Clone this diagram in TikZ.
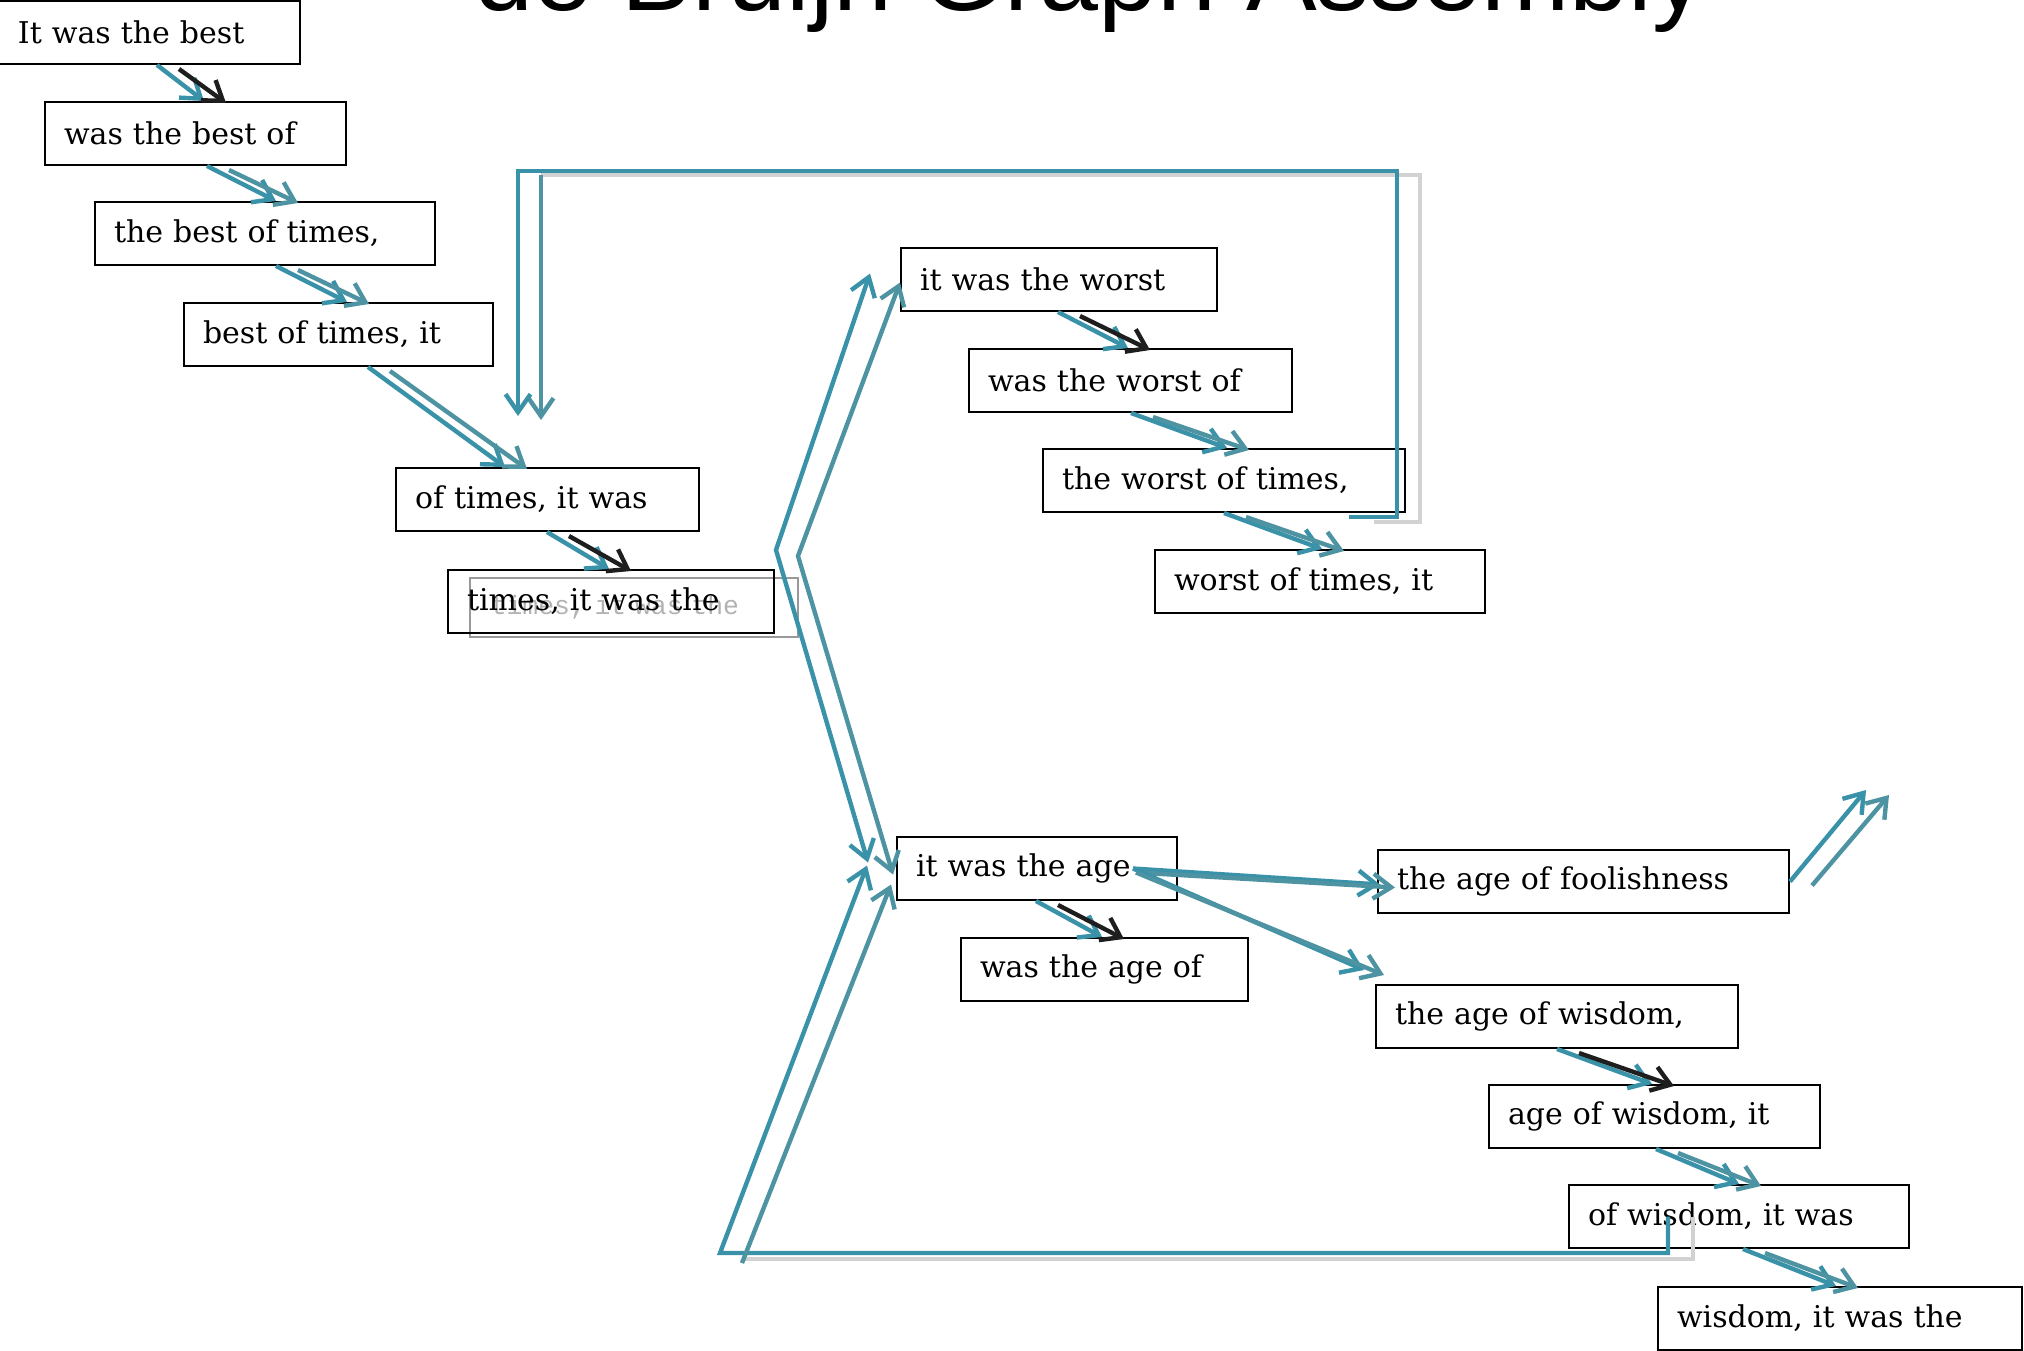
\documentclass[tikz,border=0pt]{standalone}
\usepackage{fontspec}
\setmainfont{DejaVu Serif}
\newfontfamily\titlefont{Liberation Sans}
\newfontfamily\ghostfont{Liberation Mono}
\usetikzlibrary{arrows.meta,calc}

\definecolor{linkteal}{HTML}{3A92A8}
\definecolor{linkgrey}{HTML}{4E93A2}
\definecolor{linkdark}{HTML}{1E1E1E}
\definecolor{shadowgrey}{HTML}{D2D2D2}

\tikzset{
  seg/.style={draw, line width=1pt, anchor=north west, minimum height=31.5pt,
    inner xsep=9.5pt, align=left, font=\fontsize{15pt}{18pt}\selectfont},
  link/.style={draw=linkteal, line width=2.2pt, -{Straight Barb[length=9pt,width=12.5pt]}},
  dlink/.style={link, {Straight Barb[length=9pt,width=12.5pt]}-{Straight Barb[length=9pt,width=12.5pt]}},
}

\begin{document}
\begin{tikzpicture}[x=0.5pt,y=-0.5pt]
  \useasboundingbox (0,0) rectangle (2024,1350);

  \node[anchor=base, font=\titlefont\fontsize{53pt}{60pt}\selectfont] (title) at (1090,10) {de Bruijn Graph Assembly};

  % leftover copy under the sixth segment
  \node[draw=black!40, line width=0.8pt, anchor=north west, minimum height=29.5pt, inner xsep=10.5pt,
    text width=143pt, align=left, text=black!30, font=\ghostfont\fontsize{13.2pt}{14pt}\selectfont]
    (ghost) at (469,577) {times, it was the};

  % first chain
  \node[seg, text width=131.5pt] (n1) at (-2,0) {It was the best};
  \node[seg, text width=131.5pt] (n2) at (44,101) {was the best of};
  \node[seg, text width=151pt] (n3) at (94,201) {the best of times,};
  \node[seg, text width=135.5pt] (n4) at (183,302) {best of times, it};
  \node[seg, text width=132.5pt] (n5) at (395,467) {of times, it was};
  \node[seg, text width=144pt] (n6) at (447,569) {times, it was the};

  % worst branch
  \node[seg, text width=139pt] (n7) at (900,247) {it was the worst};
  \node[seg, text width=142.5pt] (n8) at (968,348) {was the worst of};
  \node[seg, text width=162pt] (n9) at (1042,448) {the worst of times,};
  \node[seg, text width=146pt] (n10) at (1154,549) {worst of times, it};

  % age branch
  \node[seg, text width=121pt] (n11) at (896,836) {it was the age};
  \node[seg, text width=124.5pt] (n12) at (960,937) {was the age of};
  \node[seg, text width=186.5pt] (n13) at (1377,849) {the age of foolishness};
  \node[seg, text width=162pt] (n14) at (1375,984) {the age of wisdom,};
  \node[seg, text width=146.5pt] (n15) at (1488,1084) {age of wisdom, it};
  \node[seg, text width=151pt] (n16) at (1568,1184) {of wisdom, it was};
  \node[seg, text width=163pt] (n17) at (1657,1286) {wisdom, it was the};

  % short steps between overlapping segments
  \foreach \a/\b/\sx/\ex/\tone in {n1/n2/157/204/linkdark, n2/n3/207/276/linkgrey,
      n3/n4/276/347/linkgrey, n4/n5/368/505/linkgrey, n5/n6/547/609/linkdark,
      n7/n8/1058/1128/linkdark, n8/n9/1131/1227/linkgrey, n9/n10/1224/1322/linkgrey,
      n11/n12/1036/1102/linkdark, n14/n15/1557/1652/linkdark,
      n15/n16/1656/1739/linkgrey, n16/n17/1743/1836/linkgrey}{
    \draw[link] (\sx,0 |- \a.south) -- (\ex,0 |- \b.north);
    \draw[link, draw=\tone] ($(\sx,0 |- \a.south)+(22,4)$) -- ($(\ex,0 |- \b.north)+(22,2)$);
  }

  % loop back from the worst branch
  \coordinate (loopend) at (518,416);
  \coordinate (loopend2) at (541,420);
  \draw[draw=shadowgrey, line width=2.2pt] ($(n9.south west)+(332,9)$) -| (1420,175) -- (541,175);
  \draw[link, draw=linkgrey] (541,175) -- (loopend2);
  \draw[link] ($(n9.south west)+(307,4)$) -| (1397,171) -| (loopend);

  % fork after times, it was the
  \coordinate (fork) at ($(n6.north east)+(1,-19)$);
  \coordinate (fork2) at ($(n6.north east)+(23,-13)$);
  \draw[dlink] ([xshift=-15pt,yshift=3pt]n7.west) -- (fork) -- ([xshift=-14pt,yshift=3pt]n11.west);
  \draw[dlink, draw=linkgrey] ([yshift=-1.5pt]n7.west) -- (fork2) -- ([xshift=-1.5pt,yshift=-3pt]n11.west);

  % return from of wisdom, it was
  \coordinate (corner) at (720,1253);
  \draw[draw=shadowgrey, line width=2.2pt] ([xshift=-23pt]n16.center) |- (742,1259);
  \draw[link] ([xshift=-35.5pt]n16.center) |- (corner) -- ([xshift=-14.5pt,yshift=1.5pt]n11.west);
  \draw[link, draw=linkgrey] (742,1263) -- ([xshift=-2.5pt,yshift=-8pt]n11.west);

  % age branches
  \draw[link] ([xshift=-22.5pt]n11.east) -- ([xshift=1.5pt,yshift=-1.5pt]n13.west);
  \draw[link, draw=linkgrey] ([xshift=-21pt,yshift=-2pt]n11.east) -- ([xshift=9pt,yshift=-3pt]n13.west);
  \draw[link] ([xshift=-22.5pt]n11.east) -- ([xshift=-5.5pt,yshift=7pt]n14.north west);
  \draw[link, draw=linkgrey] ([xshift=-21pt,yshift=-2pt]n11.east) -- ([xshift=4.5pt,yshift=4.5pt]n14.north west);

  % open end after foolishness
  \coordinate (open1) at (1866,790);
  \coordinate (open2) at (1889,795);
  \draw[link] (n13.east) -- (open1);
  \draw[link, draw=linkgrey] ([xshift=11pt,yshift=-2pt]n13.east) -- (open2);
\end{tikzpicture}
\end{document}
